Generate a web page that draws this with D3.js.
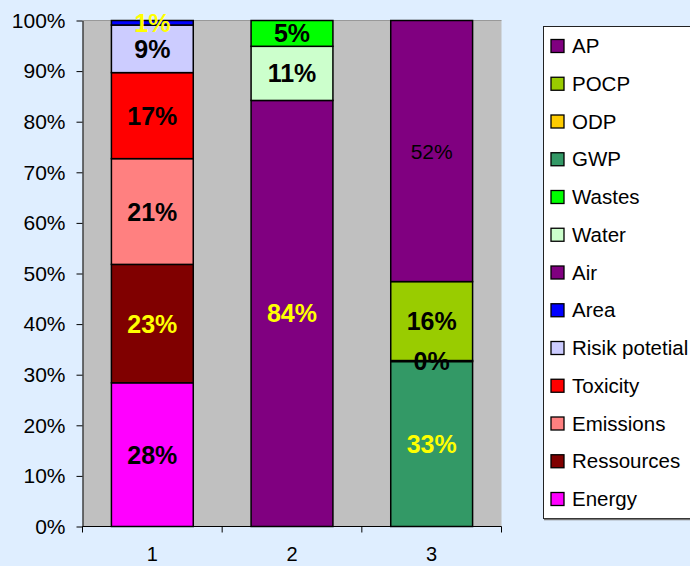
<!DOCTYPE html>
<html><head><meta charset="utf-8">
<script src="https://cdn.jsdelivr.net/npm/d3@7"></script>
<style>
html,body{margin:0;padding:0;background:#dfeeff;}
svg{display:block;font-family:"Liberation Sans",Arial,sans-serif;}
</style></head><body>
<svg id="chart" width="690" height="566"></svg>
<script>
// Data (fractions of 100%), series in stacking order (bottom to top)
const categories = ["1", "2", "3"];
const seriesNames = ["Energy","Ressources","Emissions","Toxicity","Risik potetial","Area","Air","Water","Wastes","GWP","ODP","POCP","AP"];
const seriesColors = ["#ff00ff","#800000","#ff8080","#ff0000","#ccccff","#0000ff","#800080","#ccffcc","#00ff00","#339966","#ffcc00","#99cc00","#800080"];
const labelColors = ["#000","#ffff00","#000","#000","#000","#ffff00","#ffff00","#000","#000","#ffff00","#000","#000","#000"];
const labelBold = [true,true,true,true,true,true,true,true,true,true,true,true,false];
const Energy = [0.284, 0, 0];
const Ressources = [0.234, 0, 0];
const Emissions = [0.209, 0, 0];
const Toxicity = [0.170, 0, 0];
const RisikPotetial = [0.094, 0, 0];
const Area = [0.009, 0, 0];
const Air = [0, 0.842, 0];
const Water = [0, 0.107, 0];
const Wastes = [0, 0.051, 0];
const GWP = [0, 0, 0.326];
const ODP = [0, 0, 0.002];
const POCP = [0, 0, 0.156];
const AP = [0, 0, 0.516];
const yTicks = [0,0.1,0.2,0.3,0.4,0.5,0.6,0.7,0.8,0.9,1.0];

const seriesValues = [Energy,Ressources,Emissions,Toxicity,RisikPotetial,Area,Air,Water,Wastes,GWP,ODP,POCP,AP];
const table = categories.map((c, i) => {
  const row = {cat: c};
  seriesNames.forEach((s, j) => row[s] = seriesValues[j][i]);
  return row;
});

const svg = d3.select("#chart");
const plot = {left: 82.5, right: 501.5, top: 20.5, bottom: 526.5};

const x = d3.scaleBand().domain(categories).range([plot.left, plot.right]).paddingInner(0.414).paddingOuter(0.207);
const y = d3.scaleLinear().domain([0, 1]).range([plot.bottom, plot.top]);

// plot background
svg.append("rect").attr("x", plot.left).attr("y", plot.top)
  .attr("width", plot.right - plot.left).attr("height", plot.bottom - plot.top)
  .attr("fill", "#c0c0c0");
svg.append("line").attr("x1", plot.left).attr("x2", plot.right).attr("y1", plot.top).attr("y2", plot.top)
  .attr("stroke", "#999").attr("stroke-width", 1);

const stack = d3.stack().keys(seriesNames);
const stacked = stack(table);

const g = svg.append("g");
stacked.forEach((layer, j) => {
  g.selectAll(null).data(layer.filter(d => d[1] - d[0] > 0)).enter().append("rect")
    .attr("x", d => x(d.data.cat))
    .attr("y", d => y(d[1]))
    .attr("width", x.bandwidth())
    .attr("height", d => y(d[0]) - y(d[1]))
    .attr("fill", seriesColors[j])
    .attr("stroke", "#000")
    .attr("stroke-width", 1.5);
});

// labels
stacked.forEach((layer, j) => {
  g.selectAll(null).data(layer.filter(d => d[1] - d[0] > 0)).enter().append("text")
    .attr("x", d => x(d.data.cat) + x.bandwidth() / 2)
    .attr("y", d => y((d[0] + d[1]) / 2))
    .attr("dy", "0.36em")
    .attr("text-anchor", "middle")
    .attr("font-size", labelBold[j] ? 25 : 21)
    .attr("font-weight", labelBold[j] ? "bold" : "normal")
    .attr("fill", labelColors[j])
    .text(d => d3.format(".0%")(d[1] - d[0]));
});

// Y axis
const yAxis = d3.axisLeft(y).tickValues(yTicks).tickFormat(d3.format(".0%")).tickSize(6).tickSizeOuter(0);
const ya = svg.append("g").attr("transform", `translate(${plot.left},0)`).call(yAxis);
ya.selectAll("text").attr("font-size", 21).attr("font-family", "Liberation Sans, Arial, sans-serif").attr("fill", "#000").attr("x", -17);
ya.selectAll("line,path").attr("stroke", "#000");

// X axis
const xTickPos = d3.range(categories.length + 1).map(i => plot.left + i * (plot.right - plot.left) / categories.length);
const xa = svg.append("g");
xa.append("line").attr("x1", plot.left).attr("x2", plot.right).attr("y1", plot.bottom).attr("y2", plot.bottom).attr("stroke", "#000");
xa.selectAll(".xt").data(xTickPos).enter().append("line")
  .attr("x1", d => d).attr("x2", d => d).attr("y1", plot.bottom).attr("y2", plot.bottom + 6).attr("stroke", "#000");
xa.selectAll(".xl").data(categories).enter().append("text")
  .attr("x", d => x(d) + x.bandwidth() / 2).attr("y", 561)
  .attr("text-anchor", "middle").attr("font-size", 20).text(d => d);

// Legend
const legendNames = seriesNames.slice().reverse();
const legendColors = seriesColors.slice().reverse();
const lg = svg.append("g");
lg.append("rect").attr("x", 543.5).attr("y", 26.5).attr("width", 160).attr("height", 492)
  .attr("fill", "#fff").attr("stroke", "#222").attr("stroke-width", 1);
lg.append("line").attr("x1", 544).attr("x2", 700).attr("y1", 519.5).attr("y2", 519.5).attr("stroke", "#777").attr("stroke-width", 1.5);
const ly = d3.scalePoint().domain(legendNames).range([46, 499]);
legendNames.forEach((n, i) => {
  lg.append("rect").attr("x", 551).attr("y", ly(n) - 6.5).attr("width", 13).attr("height", 13)
    .attr("fill", legendColors[i]).attr("stroke", "#000").attr("stroke-width", 1.3);
  lg.append("text").attr("x", 572).attr("y", ly(n)).attr("dy", "0.35em")
    .attr("font-size", 20.5).text(n);
});
</script>
</body></html>
